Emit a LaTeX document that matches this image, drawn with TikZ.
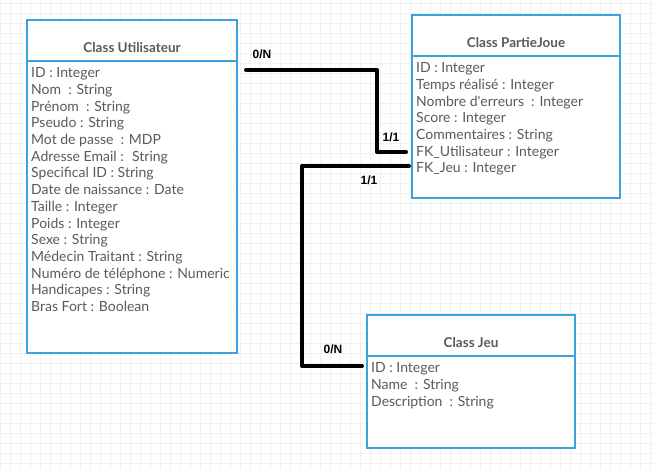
\documentclass[tikz,border=0pt]{standalone}
\usepackage{fontspec}
\setmainfont{Lato}
\newfontfamily\cardfont{Liberation Sans}
\usetikzlibrary{positioning}
\definecolor{boxblue}{HTML}{3AA3DD}
\definecolor{txtgray}{HTML}{5A5A5A}
\definecolor{gridgray}{HTML}{F0F0F0}
\tikzset{
  classbox/.style={draw=boxblue, line width=2pt, fill=white, anchor=north west,
                   minimum width=210pt, inner sep=0pt},
  classtitle/.style={font=\bfseries\fontsize{13.5}{15}\selectfont, text=txtgray},
  attrs/.style={font=\fontsize{14}{16.7}\selectfont, text=txtgray, align=left,
                anchor=north west, inner sep=0pt},
  link/.style={line width=4pt, line cap=round, line join=round},
  card/.style={font=\cardfont\bfseries\fontsize{12}{14}\selectfont}
}

\begin{document}
\begin{tikzpicture}[x=1pt,y=-1pt]
    \useasboundingbox (0,0) rectangle (653,469);
    % grid
    \foreach \gx in {0,10,...,650} \draw[gridgray, line width=0.7pt] (\gx,0) -- (\gx,469);
    \foreach \gy in {3,13,...,463} \draw[gridgray, line width=0.7pt] (0,\gy) -- (653,\gy);

    % classes
    \node[classbox, minimum height=333pt] (util)   at (26,19)  {};
    \node[classbox, minimum width=208pt, minimum height=183pt] (partie) at (411,14) {};
    \node[classbox, minimum width=208pt, minimum height=133pt] (jeu)    at (366,314) {};

    \draw[boxblue, line width=2pt] ([yshift=-42pt]util.north west)   -- ([yshift=-42pt]util.north east);
    \draw[boxblue, line width=2pt] ([yshift=-42pt]partie.north west) -- ([yshift=-42pt]partie.north east);
    \draw[boxblue, line width=2pt] ([yshift=-42pt]jeu.north west)    -- ([yshift=-42pt]jeu.north east);

    \node[classtitle] (utiltitle)   at ([yshift=-29pt]util.north)   {Class Utilisateur};
    \node[classtitle] (partietitle) at ([yshift=-29pt]partie.north) {Class PartieJoue};
    \node[classtitle] (jeutitle)    at ([yshift=-29pt]jeu.north)    {Class Jeu};

    \node[attrs] (utilattrs) at ([xshift=5pt,yshift=-48.5pt]util.north west)
        {ID : Integer\\ Nom~ : String\\ Prénom~ : String\\ Pseudo : String\\
         Mot de passe~ : MDP\\ Adresse Email :~ String\\ Specifical ID : String\\
         Date de naissance : Date\\ Taille : Integer\\ Poids : Integer\\ Sexe : String\\
         Médecin Traitant : String\\ Numéro de téléphone : Numeric\\
         Handicapes : String\\ Bras Fort : Boolean};
    \node[attrs] (partieattrs) at ([xshift=5pt,yshift=-48.5pt]partie.north west)
        {ID : Integer\\ Temps réalisé : Integer\\ Nombre d\textquotesingle erreurs~ : Integer\\
         Score : Integer\\ Commentaires : String\\ FK\_Utilisateur : Integer\\
         FK\_Jeu : Integer};
    \node[attrs] (jeuattrs) at ([xshift=5pt,yshift=-48.5pt]jeu.north west)
        {ID : Integer\\ Name~ : String\\ Description~ : String};

    % links
    \coordinate (uend)  at (246,70);
    \coordinate (ubend) at (377,152);
    \coordinate (pfku)  at (406,152);
    \coordinate (pfkj)  at (409,166);
    \coordinate (jbend) at (302,366);
    \coordinate (jend)  at (362,366);
    \draw[link] (uend) -| (ubend) -- (pfku);
    \draw[link] (pfkj) -| (jbend) -- (jend);

    \node[card] (c1) at (262,54)  {0/N};
    \node[card] (c2) at (391,137) {1/1};
    \node[card] (c3) at (369,180) {1/1};
    \node[card] (c4) at (333,349) {0/N};
\end{tikzpicture}
\end{document}
